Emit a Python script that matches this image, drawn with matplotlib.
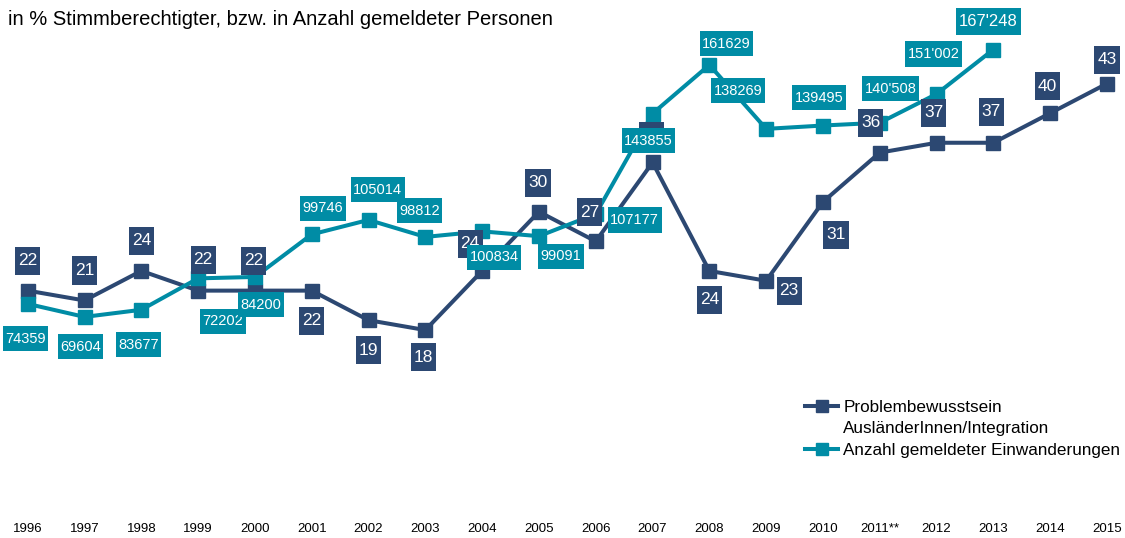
import matplotlib
matplotlib.use("Agg")
import matplotlib.pyplot as plt
from matplotlib.lines import Line2D
from matplotlib.path import Path

plt.rcParams["font.family"] = ["Liberation Sans", "DejaVu Sans"]

# data
years = ["1996", "1997", "1998", "1999", "2000", "2001", "2002", "2003", "2004", "2005",
         "2006", "2007", "2008", "2009", "2010", "2011**", "2012", "2013", "2014", "2015"]
problem_pct = [22, 21, 24, 22, 22, 22, 19, 18, 24, 30, 27, 35, 24, 23, 31, 36, 37, 37, 40, 43]
immigration = [74359, 69604, 72202, 83677, 84200, 99746, 105014, 98812, 100834, 99091,
               107177, 143855, 161629, 138269, 139495, 140508, 151002, 167248]
immigration_labels = ["74359", "69604", "83677", "72202", "84200", "99746", "105014", "98812",
                      "100834", "99091", "107177", "143855", "161629", "138269", "139495",
                      "140'508", "151'002", "167'248"]

title = "in % Stimmberechtigter, bzw. in Anzahl gemeldeter Personen"
legend_labels = ["Problembewusstsein", "AusländerInnen/Integration",
                 "Anzahl gemeldeter Einwanderungen"]

# label placement, pixel offsets from the marker (dx right, dy down)
problem_offsets = [(0, -30), (0, -30), (0, -30), (5, -31), (-1, -30), (0, 30), (0, 30),
                   (-2, 27), (-12, -27), (-1, -29), (-6, -29), (-1, -26), (0, 29), (23, 10),
                   (13, 33), (-9, -30), (-3, -30), (-2, -31), (-3, -27), (0, -24)]
immigration_offsets = [(-2, 35), (-4, 30), (-3, 35), (25, 43), (6, 28), (11, -26), (9, -30),
                       (-6, -26), (12, 26), (22, 20), (39, 6), (-4, 27), (17, -21), (-28, -38),
                       (-4, -28), (11, -34), (-3, -40), (-5, -28)]

NAVY = "#2c4872"
TEAL = "#008ca5"


def label_box(padx, pady):
    # rectangular box with different horizontal / vertical padding
    def style(x0, y0, width, height, mutation_size):
        px = padx * mutation_size
        py = pady * mutation_size
        x1, y1 = x0 + width + px, y0 + height + py
        xa, ya = x0 - px, y0 - py
        return Path([(xa, ya), (x1, ya), (x1, y1), (xa, y1), (xa, ya)], closed=True)
    return style


fig = plt.figure(figsize=(11.25, 5.38), dpi=100)
ax = fig.add_axes([0, 30.5 / 538, 1, 492.9 / 538])
ax2 = ax.twinx()

x = list(range(len(years)))

navy_line, = ax.plot(x, problem_pct, color=NAVY, lw=2.9, marker="s", ms=10,
                     solid_joinstyle="miter", zorder=2)
teal_line, = ax2.plot(x[:len(immigration)], immigration, color=TEAL, lw=2.9, marker="s",
                      ms=10, solid_joinstyle="miter", zorder=3)

ax.set_ylim(0, 50)
ax2.set_ylim(0, 180000)
ax.set_xlim(-0.4877, 19.317)

for a in (ax, ax2):
    for s in a.spines.values():
        s.set_visible(False)
    a.set_yticks([])

ax.set_xticks(x)
ax.set_xticklabels(years, fontsize=9.5)
ax.tick_params(axis="x", length=0, pad=11)

# value labels
for i, v in enumerate(problem_pct):
    dx, dy = problem_offsets[i]
    ax2.annotate(str(v), (x[i], v), xycoords=ax.transData, xytext=(dx, -dy),
                 textcoords="offset pixels", ha="center", va="center", fontsize=12.5,
                 color="white", zorder=4,
                 bbox=dict(boxstyle=label_box(0.17, 0.38), fc=NAVY, ec="none"))

for i, v in enumerate(immigration):
    dx, dy = immigration_offsets[i]
    size = 12 if i == len(immigration) - 1 else 10.5
    ax2.annotate(immigration_labels[i], (x[i], v), xytext=(dx, -dy),
                 textcoords="offset pixels", ha="center", va="center", fontsize=size,
                 color="white", zorder=5,
                 bbox=dict(boxstyle=label_box(0.17, 0.38), fc=TEAL, ec="none"))

fig.text(8 / 1125, 1 - 25 / 538, title, fontsize=14.5, va="baseline", ha="left")

blank = Line2D([], [], color="none")
leg = ax2.legend([navy_line, blank, teal_line], legend_labels,
                 loc="upper left", bbox_to_anchor=(805 / 1125, 1 - 400 / 538),
                 bbox_transform=fig.transFigure, frameon=False, fontsize=12.3,
                 borderpad=0, borderaxespad=0, handlelength=1.95, handletextpad=0.3,
                 labelspacing=0.38, markerscale=0.85)

fig.savefig("out.png", dpi=100)
